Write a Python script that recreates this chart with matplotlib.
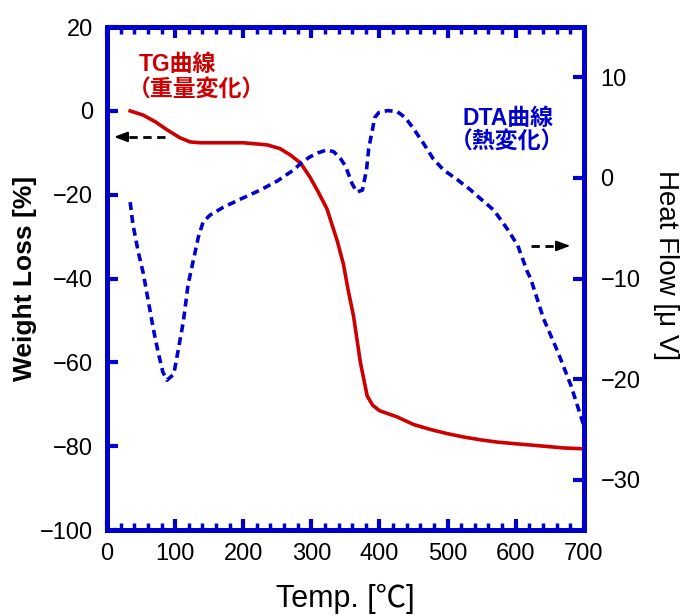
import matplotlib
matplotlib.use("Agg")
import matplotlib.pyplot as plt
from matplotlib.ticker import MultipleLocator

plt.rcParams['font.family'] = ['Liberation Sans', 'Noto Sans CJK JP', 'DejaVu Sans']

# TG curve (weight loss, left axis)
tg_temp = [34, 53, 71, 88, 107, 122, 137, 170, 200, 235, 254, 269, 284, 298, 310,
           323, 338, 347, 354, 362, 372, 382, 390, 400, 426, 450, 475, 500, 524,
           550, 573, 600, 622, 650, 671, 700]
tg_weight = [0, -1, -2.6, -4.5, -6.4, -7.4, -7.6, -7.6, -7.6, -8.1, -9.0, -10.5, -12.4,
             -15.8, -19.3, -23.4, -31, -36.5, -42.7, -49, -60, -68, -70.2, -71.5, -73,
             -74.8, -76, -77, -77.8, -78.5, -79, -79.4, -79.7, -80.1, -80.4, -80.6]

# DTA curve (heat flow, right axis)
dta_temp = [34, 38, 46, 53, 60, 68, 75, 82, 88, 98, 104, 112, 119, 127, 134, 141, 151,
            171, 196, 225, 250, 274, 287, 298, 310, 323, 333, 343, 350, 355, 360, 367,
            375, 378, 381, 384, 387, 390, 393, 399, 412, 426, 438, 450, 465, 479, 494,
            515, 534, 549, 568, 588, 603, 617, 622, 641, 662, 681, 700]
dta_heat = [-2.4, -4.6, -7.4, -9.4, -12, -15, -17.3, -19.3, -20.1, -19.5, -17.3, -14.3,
            -10.6, -8.1, -5.9, -4.4, -3.7, -2.9, -2.1, -1.2, -0.3, 0.8, 1.6, 2.1, 2.5,
            2.8, 2.6, 1.9, 1.2, 0.3, -0.6, -1.4, -1.2, -0.2, 0.8, 2.8, 3.9, 4.9, 6.0,
            6.5, 6.7, 6.6, 6.0, 4.9, 3.4, 1.9, 0.8, -0.2, -1.2, -2.1, -3.2, -5.1, -6.7,
            -9.3, -10, -14, -17.3, -20.6, -24.6]

x_ticks = [0, 100, 200, 300, 400, 500, 600, 700]
left_ticks = [-100, -80, -60, -40, -20, 0, 20]
right_ticks = [-30, -20, -10, 0, 10]

RED = '#CC0000'
BLUE = '#0000CC'

fig = plt.figure(figsize=(6.86, 6.15), dpi=100)
ax = fig.add_axes([0.156, 0.138, 0.695, 0.818])
ax2 = ax.twinx()

ax.plot(tg_temp, tg_weight, color=RED, lw=2.6, zorder=3)
ax2.plot(dta_temp, dta_heat, color=BLUE, lw=2.6, linestyle=(0, (2.2, 1.4)))

ax.set_xlim(0, 700)
ax.set_ylim(-100, 20)
ax2.set_ylim(-35, 15)
ax.set_xticks(x_ticks)
ax.set_yticks(left_ticks)
ax2.set_yticks(right_ticks)
ax.xaxis.set_minor_locator(MultipleLocator(20))

for a in (ax, ax2):
    for s in a.spines.values():
        s.set_color(BLUE)
        s.set_linewidth(3.5)

ax.tick_params(axis='x', which='major', direction='in', length=8, width=3,
               color=BLUE, top=True, labelsize=17, pad=9)
ax.tick_params(axis='x', which='minor', direction='in', length=5, width=2.5,
               color=BLUE, top=True)
ax.tick_params(axis='y', which='major', direction='in', length=8, width=3,
               color=BLUE, labelsize=17, pad=10)
ax2.tick_params(axis='y', which='major', direction='in', length=8, width=3,
                color=BLUE, labelsize=17, pad=12)

ax.set_xlabel('Temp. [℃]', fontsize=22, labelpad=14)
ax.set_ylabel('Weight Loss [%]', fontsize=19, fontweight='bold', labelpad=2)
ax2.set_ylabel('Heat Flow [μ V]', fontsize=20, rotation=270, labelpad=28)
ax2.yaxis.label.set_y(0.527)

# annotations
ax.text(46, 11.0, 'TG曲線', color=RED, fontsize=16.5, fontweight='bold',
        ha='left', va='center')
ax.text(31, 5.0, '（重量変化）', color=RED, fontsize=16.5, fontweight='bold',
        ha='left', va='center')
ax.text(588, -1.8, 'DTA曲線', color=BLUE, fontsize=16.5, fontweight='bold',
        ha='center', va='center')
ax.text(588, -7.4, '（熱変化）', color=BLUE, fontsize=16.5, fontweight='bold',
        ha='center', va='center')

# dashed arrows
ax.plot([85, 20], [-6.2, -6.2], color='black', lw=2.0, linestyle=(0, (3, 2)))
ax.annotate('', xy=(6, -6.2), xytext=(22, -6.2),
            arrowprops=dict(arrowstyle='-|>,head_length=0.8,head_width=0.3',
                            color='black', lw=1.5))
ax.plot([622, 670], [-32.2, -32.2], color='black', lw=2.0, linestyle=(0, (3, 2)))
ax.annotate('', xy=(684, -32.2), xytext=(668, -32.2),
            arrowprops=dict(arrowstyle='-|>,head_length=0.8,head_width=0.3',
                            color='black', lw=1.5))

fig.savefig('out.png', dpi=100)
